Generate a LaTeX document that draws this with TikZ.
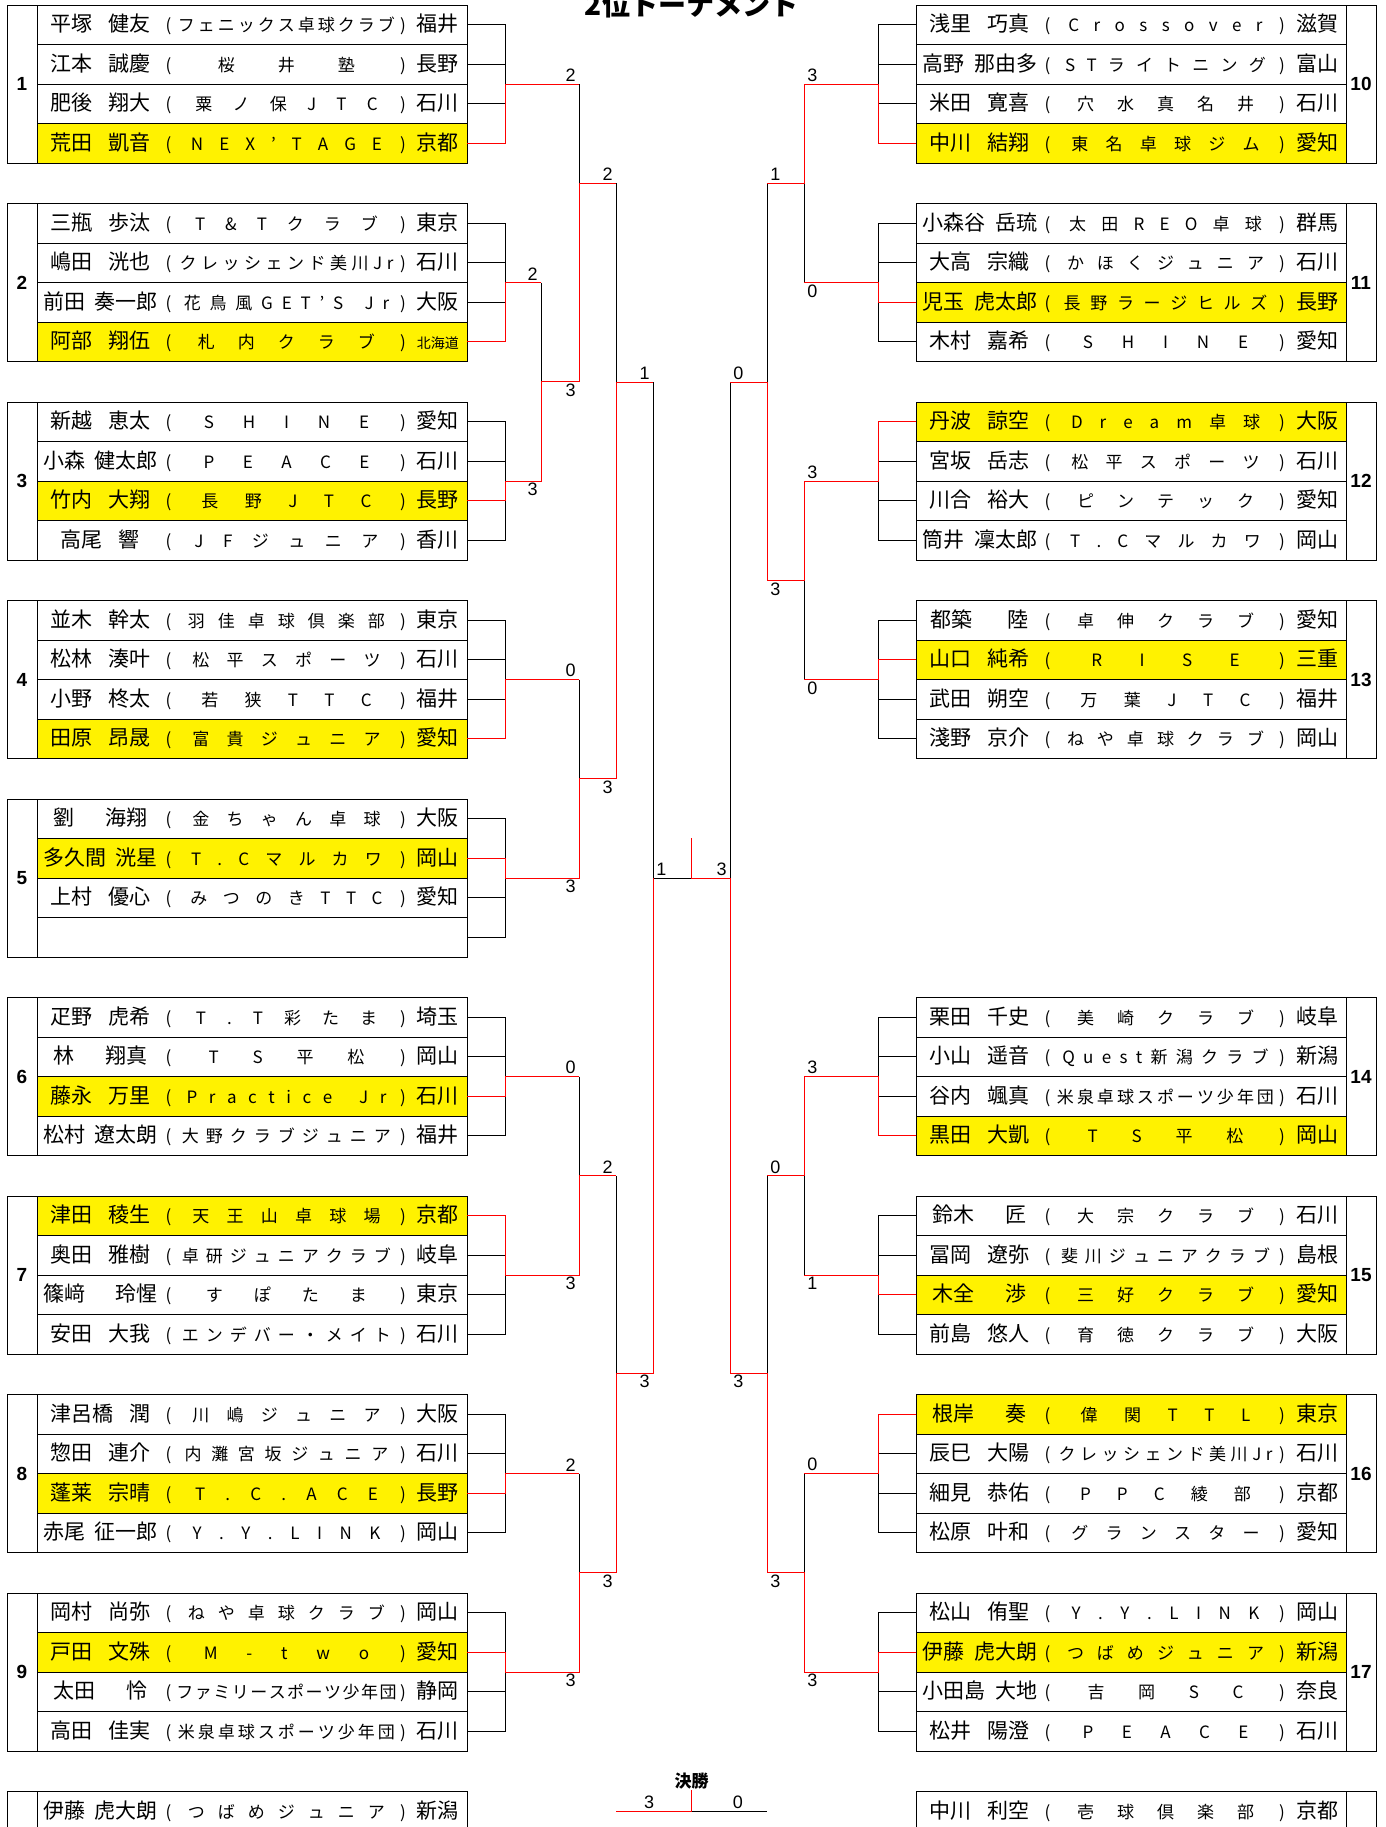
\documentclass[tikz,border=0pt]{standalone}
\usepackage{fontspec}
\setmainfont{Noto Sans CJK JP}
\newfontfamily\arial{Liberation Sans}
\usetikzlibrary{positioning,calc}

\newcommand\fnm{\fontsize{10.5pt}{12pt}\selectfont}
\newcommand\fcl{\fontsize{8.5pt}{10pt}\selectfont}
% name: surname left, given name right
\newcommand\pnm[3][50.5pt]{\hbox to 57.5pt{\hfil\hbox to #1{#2\hfill#3}\hfil}}
% club: letters spread evenly between the brackets
\def\clubtok#1#2\clubend{#1\hfil\ifx\relax#2\relax\else\clubtok#2\clubend\fi}
\newcommand\pclub[1]{\hbox to 111.5pt{\fcl\hfil\clubtok#1\clubend}}
\newcommand\prt[3]{\hbox to 215pt{\fnm\hskip3pt#1\hskip2.75pt\hbox to 5pt{\hss\fcl(\hss}\hskip0.75pt\pclub{#2}\hbox to 5pt{\hss\fcl)\hss}\hskip1pt\hbox to 28pt{\hss#3\hss}\hss}}
% one player row: [style]{name}{left x}{slot}{row}{text}
\newcommand\plr[6][]{\node[pl,#1] (#2) at ({#3+215},{5+(#4-1)*198.5+(#5-0.5)*39.5}) {#6};}
% first bracket of a block
\newcommand\blkbr[2]{\draw[lnk] (b#1r1.#2) -- (b#1r1.#2 -| o#1) -- (b#1r4.#2 -| o#1) -- (b#1r4.#2)
  (b#1r2.#2) -- (b#1r2.#2 -| o#1) (b#1r3.#2) -- (b#1r3.#2 -| o#1);}

\tikzset{
  pl/.style={draw, line width=0.5pt, minimum width=215pt, minimum height=19.75pt, inner sep=0pt, outer sep=0pt},
  hl/.style={fill=yellow},
  numcell/.style={draw, line width=0.5pt, minimum width=15pt, minimum height=79pt, inner sep=0pt, font=\arial\bfseries\fontsize{9.5pt}{11pt}\selectfont},
  lnk/.style={line width=0.5pt},
  redln/.style={line width=0.5pt, red},
  sc/.style={font=\arial\fontsize{9pt}{10pt}\selectfont, inner sep=0.5pt},
}

\begin{document}
\begin{tikzpicture}[x=0.5pt, y=-0.5pt]
  \useasboundingbox (0,0) rectangle (1386,1827);
  \node[font=\bfseries\fontsize{14pt}{16pt}\selectfont, anchor=base] (title) at (691.5,15) {2位トーナメント};

  % left blocks
  \plr{b1r1}{37}{1}{1}{\prt{\pnm{平塚}{健友}}{フェニックス卓球クラブ}{福井}}
  \plr{b1r2}{37}{1}{2}{\prt{\pnm{江本}{誠慶}}{桜井塾}{長野}}
  \plr{b1r3}{37}{1}{3}{\prt{\pnm{肥後}{翔大}}{粟ノ保JTC}{石川}}
  \plr[hl]{b1r4}{37}{1}{4}{\prt{\pnm{荒田}{凱音}}{NEX’TAGE}{京都}}
  \plr{b2r1}{37}{2}{1}{\prt{\pnm{三瓶}{歩汰}}{T\&Tクラブ}{東京}}
  \plr{b2r2}{37}{2}{2}{\prt{\pnm{嶋田}{洸也}}{クレッシェンド美川Jr}{石川}}
  \plr{b2r3}{37}{2}{3}{\prt{\pnm[57.5pt]{前田}{奏一郎}}{花鳥風GET’S~Jr}{大阪}}
  \plr[hl]{b2r4}{37}{2}{4}{\prt{\pnm{阿部}{翔伍}}{札内クラブ}{{\fontsize{7pt}{8pt}\selectfont 北海道}}}
  \plr{b3r1}{37}{3}{1}{\prt{\pnm{新越}{恵太}}{SHINE}{愛知}}
  \plr{b3r2}{37}{3}{2}{\prt{\pnm[57.5pt]{小森}{健太郎}}{PEACE}{石川}}
  \plr[hl]{b3r3}{37}{3}{3}{\prt{\pnm{竹内}{大翔}}{長野JTC}{長野}}
  \plr{b3r4}{37}{3}{4}{\prt{\pnm[39.5pt]{高尾}{響}}{JFジュニア}{香川}}
  \plr{b4r1}{37}{4}{1}{\prt{\pnm{並木}{幹太}}{羽佳卓球倶楽部}{東京}}
  \plr{b4r2}{37}{4}{2}{\prt{\pnm{松林}{湊叶}}{松平スポーツ}{石川}}
  \plr{b4r3}{37}{4}{3}{\prt{\pnm{小野}{柊太}}{若狭TTC}{福井}}
  \plr[hl]{b4r4}{37}{4}{4}{\prt{\pnm{田原}{昂晟}}{富貴ジュニア}{愛知}}
  \plr{b5r1}{37}{5}{1}{\prt{\pnm[47pt]{劉}{海翔}}{金ちゃん卓球}{大阪}}
  \plr[hl]{b5r2}{37}{5}{2}{\prt{\pnm[57.5pt]{多久間}{洸星}}{T.Cマルカワ}{岡山}}
  \plr{b5r3}{37}{5}{3}{\prt{\pnm{上村}{優心}}{みつのきTTC}{愛知}}
  \plr{b5r4}{37}{5}{4}{}
  \plr{b6r1}{37}{6}{1}{\prt{\pnm{疋野}{虎希}}{T.T彩たま}{埼玉}}
  \plr{b6r2}{37}{6}{2}{\prt{\pnm[47pt]{林}{翔真}}{TS平松}{岡山}}
  \plr[hl]{b6r3}{37}{6}{3}{\prt{\pnm{藤永}{万里}}{Practice~Jr}{石川}}
  \plr{b6r4}{37}{6}{4}{\prt{\pnm[57.5pt]{松村}{遼太朗}}{大野クラブジュニア}{福井}}
  \plr[hl]{b7r1}{37}{7}{1}{\prt{\pnm{津田}{稜生}}{天王山卓球場}{京都}}
  \plr{b7r2}{37}{7}{2}{\prt{\pnm{奥田}{雅樹}}{卓研ジュニアクラブ}{岐阜}}
  \plr{b7r3}{37}{7}{3}{\prt{\pnm[57.5pt]{篠﨑}{玲惺}}{すぽたま}{東京}}
  \plr{b7r4}{37}{7}{4}{\prt{\pnm{安田}{大我}}{エンデバー・メイト}{石川}}
  \plr{b8r1}{37}{8}{1}{\prt{\pnm{津呂橋}{潤}}{川嶋ジュニア}{大阪}}
  \plr{b8r2}{37}{8}{2}{\prt{\pnm{惣田}{連介}}{内灘宮坂ジュニア}{石川}}
  \plr[hl]{b8r3}{37}{8}{3}{\prt{\pnm{蓬莱}{宗晴}}{T.C.ACE}{長野}}
  \plr{b8r4}{37}{8}{4}{\prt{\pnm[57.5pt]{赤尾}{征一郎}}{Y.Y.LINK}{岡山}}
  \plr{b9r1}{37}{9}{1}{\prt{\pnm{岡村}{尚弥}}{ねや卓球クラブ}{岡山}}
  \plr[hl]{b9r2}{37}{9}{2}{\prt{\pnm{戸田}{文殊}}{M-two}{愛知}}
  \plr{b9r3}{37}{9}{3}{\prt{\pnm[47pt]{太田}{怜}}{ファミリースポーツ少年団}{静岡}}
  \plr{b9r4}{37}{9}{4}{\prt{\pnm{高田}{佳実}}{米泉卓球スポーツ少年団}{石川}}
  \plr{xL}{37}{10}{1}{\prt{\pnm[57.5pt]{伊藤}{虎大朗}}{つばめジュニア}{新潟}}

  % right blocks
  \plr{b10r1}{916}{1}{1}{\prt{\pnm{浅里}{巧真}}{Crossover}{滋賀}}
  \plr{b10r2}{916}{1}{2}{\prt{\pnm[57.5pt]{高野}{那由多}}{STライトニング}{富山}}
  \plr{b10r3}{916}{1}{3}{\prt{\pnm{米田}{寛喜}}{穴水真名井}{石川}}
  \plr[hl]{b10r4}{916}{1}{4}{\prt{\pnm{中川}{結翔}}{東名卓球ジム}{愛知}}
  \plr{b11r1}{916}{2}{1}{\prt{\pnm[57.5pt]{小森谷}{岳琉}}{太田REO卓球}{群馬}}
  \plr{b11r2}{916}{2}{2}{\prt{\pnm{大高}{宗織}}{かほくジュニア}{石川}}
  \plr[hl]{b11r3}{916}{2}{3}{\prt{\pnm[57.5pt]{児玉}{虎太郎}}{長野ラージヒルズ}{長野}}
  \plr{b11r4}{916}{2}{4}{\prt{\pnm{木村}{嘉希}}{SHINE}{愛知}}
  \plr[hl]{b12r1}{916}{3}{1}{\prt{\pnm{丹波}{諒空}}{Dream卓球}{大阪}}
  \plr{b12r2}{916}{3}{2}{\prt{\pnm{宮坂}{岳志}}{松平スポーツ}{石川}}
  \plr{b12r3}{916}{3}{3}{\prt{\pnm{川合}{裕大}}{ピンテック}{愛知}}
  \plr{b12r4}{916}{3}{4}{\prt{\pnm[57.5pt]{筒井}{凜太郎}}{T.Cマルカワ}{岡山}}
  \plr{b13r1}{916}{4}{1}{\prt{\pnm[49pt]{都築}{陸}}{卓伸クラブ}{愛知}}
  \plr[hl]{b13r2}{916}{4}{2}{\prt{\pnm{山口}{純希}}{RISE}{三重}}
  \plr{b13r3}{916}{4}{3}{\prt{\pnm{武田}{朔空}}{万葉JTC}{福井}}
  \plr{b13r4}{916}{4}{4}{\prt{\pnm{淺野}{京介}}{ねや卓球クラブ}{岡山}}
  \plr{b14r1}{916}{6}{1}{\prt{\pnm{栗田}{千史}}{美崎クラブ}{岐阜}}
  \plr{b14r2}{916}{6}{2}{\prt{\pnm{小山}{遥音}}{Quest新潟クラブ}{新潟}}
  \plr{b14r3}{916}{6}{3}{\prt{\pnm{谷内}{颯真}}{米泉卓球スポーツ少年団}{石川}}
  \plr[hl]{b14r4}{916}{6}{4}{\prt{\pnm{黒田}{大凱}}{TS平松}{岡山}}
  \plr{b15r1}{916}{7}{1}{\prt{\pnm[47pt]{鈴木}{匠}}{大宗クラブ}{石川}}
  \plr{b15r2}{916}{7}{2}{\prt{\pnm{冨岡}{遼弥}}{斐川ジュニアクラブ}{島根}}
  \plr[hl]{b15r3}{916}{7}{3}{\prt{\pnm[47pt]{木全}{渉}}{三好クラブ}{愛知}}
  \plr{b15r4}{916}{7}{4}{\prt{\pnm{前島}{悠人}}{育徳クラブ}{大阪}}
  \plr[hl]{b16r1}{916}{8}{1}{\prt{\pnm[47pt]{根岸}{奏}}{偉関TTL}{東京}}
  \plr{b16r2}{916}{8}{2}{\prt{\pnm{辰巳}{大陽}}{クレッシェンド美川Jr}{石川}}
  \plr{b16r3}{916}{8}{3}{\prt{\pnm{細見}{恭佑}}{PPC綾部}{京都}}
  \plr{b16r4}{916}{8}{4}{\prt{\pnm{松原}{叶和}}{グランスター}{愛知}}
  \plr{b17r1}{916}{9}{1}{\prt{\pnm{松山}{侑聖}}{Y.Y.LINK}{岡山}}
  \plr[hl]{b17r2}{916}{9}{2}{\prt{\pnm[57.5pt]{伊藤}{虎大朗}}{つばめジュニア}{新潟}}
  \plr{b17r3}{916}{9}{3}{\prt{\pnm[57.5pt]{小田島}{大地}}{吉岡SC}{奈良}}
  \plr{b17r4}{916}{9}{4}{\prt{\pnm{松井}{陽澄}}{PEACE}{石川}}
  \plr{xR}{916}{10}{1}{\prt{\pnm{中川}{利空}}{壱球倶楽部}{京都}}

  % block numbers
  \node[numcell] (n1) at (22,84) {1};
  \node[numcell] (n2) at (22,282.5) {2};
  \node[numcell] (n3) at (22,481) {3};
  \node[numcell] (n4) at (22,679.5) {4};
  \node[numcell] (n5) at (22,878) {5};
  \node[numcell] (n6) at (22,1076.5) {6};
  \node[numcell] (n7) at (22,1275) {7};
  \node[numcell] (n8) at (22,1473.5) {8};
  \node[numcell] (n9) at (22,1672) {9};
  \node[numcell, minimum height=19.75pt] (nL) at (22,1811.25) {};
  \node[numcell] (n10) at (1361,84) {10};
  \node[numcell] (n11) at (1361,282.5) {11};
  \node[numcell] (n12) at (1361,481) {12};
  \node[numcell] (n13) at (1361,679.5) {13};
  \node[numcell] (n14) at (1361,1076.5) {14};
  \node[numcell] (n15) at (1361,1275) {15};
  \node[numcell] (n16) at (1361,1473.5) {16};
  \node[numcell] (n17) at (1361,1672) {17};
  \node[numcell, minimum height=19.75pt] (nR) at (1361,1811.25) {};

  % block outputs
  \coordinate (o1) at (505,84);     \coordinate (o2) at (505,282.5);
  \coordinate (o3) at (505,481);    \coordinate (o4) at (505,679.5);
  \coordinate (o5) at (505,878);    \coordinate (o6) at (505,1076.5);
  \coordinate (o7) at (505,1275);   \coordinate (o8) at (505,1473.5);
  \coordinate (o9) at (505,1672);
  \coordinate (o10) at (878,84);    \coordinate (o11) at (878,282.5);
  \coordinate (o12) at (878,481);   \coordinate (o13) at (878,679.5);
  \coordinate (o14) at (878,1076.5); \coordinate (o15) at (878,1275);
  \coordinate (o16) at (878,1473.5); \coordinate (o17) at (878,1672);
  % match points (x of the match, y of its result)
  \coordinate (mB) at (541,381.75);  \coordinate (mA) at (579,183.25);
  \coordinate (mC) at (579,778.75);  \coordinate (mQ1) at (616,382);
  \coordinate (mD) at (579,1175.75); \coordinate (mE) at (579,1572.75);
  \coordinate (mQ2) at (616,1373);   \coordinate (mS) at (653,878);
  \coordinate (mF) at (804,183.25);  \coordinate (mG) at (804,580.25);
  \coordinate (mQ3) at (767,382);
  \coordinate (mH) at (804,1175.75); \coordinate (mI) at (804,1572.75);
  \coordinate (mQ4) at (767,1373);   \coordinate (mT) at (730,878);
  \coordinate (fin) at (691.5,878);  \coordinate (fintop) at (691.5,838);

  % black lines
  \foreach \k in {1,...,9} {\blkbr{\k}{east}}
  \foreach \k in {10,...,17} {\blkbr{\k}{west}}
  \draw[lnk] (o2 -| mB) -- (o3 -| mB)
    (o1 -| mA) -- (mB -| mA)
    (o4 -| mC) -- (o5 -| mC)
    (mA -| mQ1) -- (mC -| mQ1)
    (o6 -| mD) -- (o7 -| mD)
    (o8 -| mE) -- (o9 -| mE)
    (mD -| mQ2) -- (mE -| mQ2)
    (mQ1 -| mS) -- (mQ2 -| mS) (mS) -- (fin);
  \draw[lnk] (o10 -| mF) -- (o11 -| mF)
    (o12 -| mG) -- (o13 -| mG)
    (mF -| mQ3) -- (mG -| mQ3)
    (o14 -| mH) -- (o15 -| mH)
    (o16 -| mI) -- (o17 -| mI)
    (mH -| mQ4) -- (mI -| mQ4)
    (mQ3 -| mT) -- (mQ4 -| mT);

  % winners in red
  \draw[redln] (b1r4.east) -| (o1) -- (o1 -| mA);
  \draw[redln] (b2r4.east) -| (o2) -- (o2 -| mB);
  \draw[redln] (b3r3.east) -| (o3) -- (o3 -| mB) -- (mB) -- (mB -| mA) -- (mA) -- (mA -| mQ1);
  \draw[redln] (b4r4.east) -| (o4) -- (o4 -| mC);
  \draw[redln] (b5r2.east) -| (o5) -- (o5 -| mC) -- (mC) -- (mC -| mQ1) -- (mQ1) -- (mQ1 -| mS);
  \draw[redln] (b6r3.east) -| (o6) -- (o6 -| mD);
  \draw[redln] (b7r1.east) -| (o7) -- (o7 -| mD) -- (mD) -- (mD -| mQ2);
  \draw[redln] (b8r3.east) -| (o8) -- (o8 -| mE);
  \draw[redln] (b9r2.east) -| (o9) -- (o9 -| mE) -- (mE) -- (mE -| mQ2) -- (mQ2) -- (mQ2 -| mS) -- (mS);
  \draw[redln] (b10r4.west) -| (o10) -- (o10 -| mF) -- (mF) -- (mF -| mQ3);
  \draw[redln] (b11r3.west) -| (o11) -- (o11 -| mF);
  \draw[redln] (b12r1.west) -| (o12) -- (o12 -| mG) -- (mG) -- (mG -| mQ3) -- (mQ3) -- (mQ3 -| mT);
  \draw[redln] (b13r2.west) -| (o13) -- (o13 -| mG);
  \draw[redln] (b14r4.west) -| (o14) -- (o14 -| mH) -- (mH) -- (mH -| mQ4);
  \draw[redln] (b15r3.west) -| (o15) -- (o15 -| mH);
  \draw[redln] (b16r1.west) -| (o16) -- (o16 -| mI);
  \draw[redln] (b17r2.west) -| (o17) -- (o17 -| mI) -- (mI) -- (mI -| mQ4) -- (mQ4) -- (mQ4 -| mT) -- (mT) -- (fin) -- (fintop);

  % scores, left
  \node[sc, anchor=south east] (s1) at ($(o1 -| mA)+(-2,-1)$) {2};
  \node[sc, anchor=south east] (s2) at ($(o2 -| mB)+(-2,-1)$) {2};
  \node[sc, anchor=north east] (s3) at ($(o3 -| mB)+(-2,1)$) {3};
  \node[sc, anchor=south east] (s4) at ($(o4 -| mC)+(-2,-1)$) {0};
  \node[sc, anchor=north east] (s5) at ($(o5 -| mC)+(-2,1)$) {3};
  \node[sc, anchor=south east] (s6) at ($(o6 -| mD)+(-2,-1)$) {0};
  \node[sc, anchor=north east] (s7) at ($(o7 -| mD)+(-2,1)$) {3};
  \node[sc, anchor=south east] (s8) at ($(o8 -| mE)+(-2,-1)$) {2};
  \node[sc, anchor=north east] (s9) at ($(o9 -| mE)+(-2,1)$) {3};
  \node[sc, anchor=north east] (sB) at ($(mB -| mA)+(-2,1)$) {3};
  \node[sc, anchor=south east] (sA) at ($(mA -| mQ1)+(-2,-1)$) {2};
  \node[sc, anchor=north east] (sC) at ($(mC -| mQ1)+(-2,1)$) {3};
  \node[sc, anchor=south east] (sQ1) at ($(mQ1 -| mS)+(-2,-1)$) {1};
  \node[sc, anchor=south east] (sD) at ($(mD -| mQ2)+(-2,-1)$) {2};
  \node[sc, anchor=north east] (sE) at ($(mE -| mQ2)+(-2,1)$) {3};
  \node[sc, anchor=north east] (sQ2) at ($(mQ2 -| mS)+(-2,1)$) {3};
  \node[sc, anchor=south west] (sS) at ($(mS)+(2,-1)$) {1};
  % scores, right
  \node[sc, anchor=south west] (s10) at ($(o10 -| mF)+(2,-1)$) {3};
  \node[sc, anchor=north west] (s11) at ($(o11 -| mF)+(2,1)$) {0};
  \node[sc, anchor=south west] (s12) at ($(o12 -| mG)+(2,-1)$) {3};
  \node[sc, anchor=north west] (s13) at ($(o13 -| mG)+(2,1)$) {0};
  \node[sc, anchor=south west] (s14) at ($(o14 -| mH)+(2,-1)$) {3};
  \node[sc, anchor=north west] (s15) at ($(o15 -| mH)+(2,1)$) {1};
  \node[sc, anchor=south west] (s16) at ($(o16 -| mI)+(2,-1)$) {0};
  \node[sc, anchor=north west] (s17) at ($(o17 -| mI)+(2,1)$) {3};
  \node[sc, anchor=south west] (sF) at ($(mF -| mQ3)+(2,-1)$) {1};
  \node[sc, anchor=north west] (sG) at ($(mG -| mQ3)+(2,1)$) {3};
  \node[sc, anchor=south west] (sQ3) at ($(mQ3 -| mT)+(2,-1)$) {0};
  \node[sc, anchor=south west] (sH) at ($(mH -| mQ4)+(2,-1)$) {0};
  \node[sc, anchor=north west] (sI) at ($(mI -| mQ4)+(2,1)$) {3};
  \node[sc, anchor=north west] (sQ4) at ($(mQ4 -| mT)+(2,1)$) {3};
  \node[sc, anchor=south east] (sT) at ($(mT)+(-2,-1)$) {3};

  % final at the bottom
  \node[font=\bfseries\fontsize{8.5pt}{10pt}\selectfont] (kessho) at (691.5,1781) {決勝};
  \coordinate (pL) at (616,1811); \coordinate (pR) at (767,1811);
  \coordinate (pM) at (691.5,1811); \coordinate (pMt) at (691.5,1790);
  \draw[lnk] (pM) -- (pR);
  \draw[redln] (pL) -- (pM) -- (pMt);
  \node[sc, anchor=south east] (sP1) at ($(pM)+(-36,-1)$) {3};
  \node[sc, anchor=south west] (sP2) at ($(pM)+(40,-1)$) {0};
\end{tikzpicture}
\end{document}
